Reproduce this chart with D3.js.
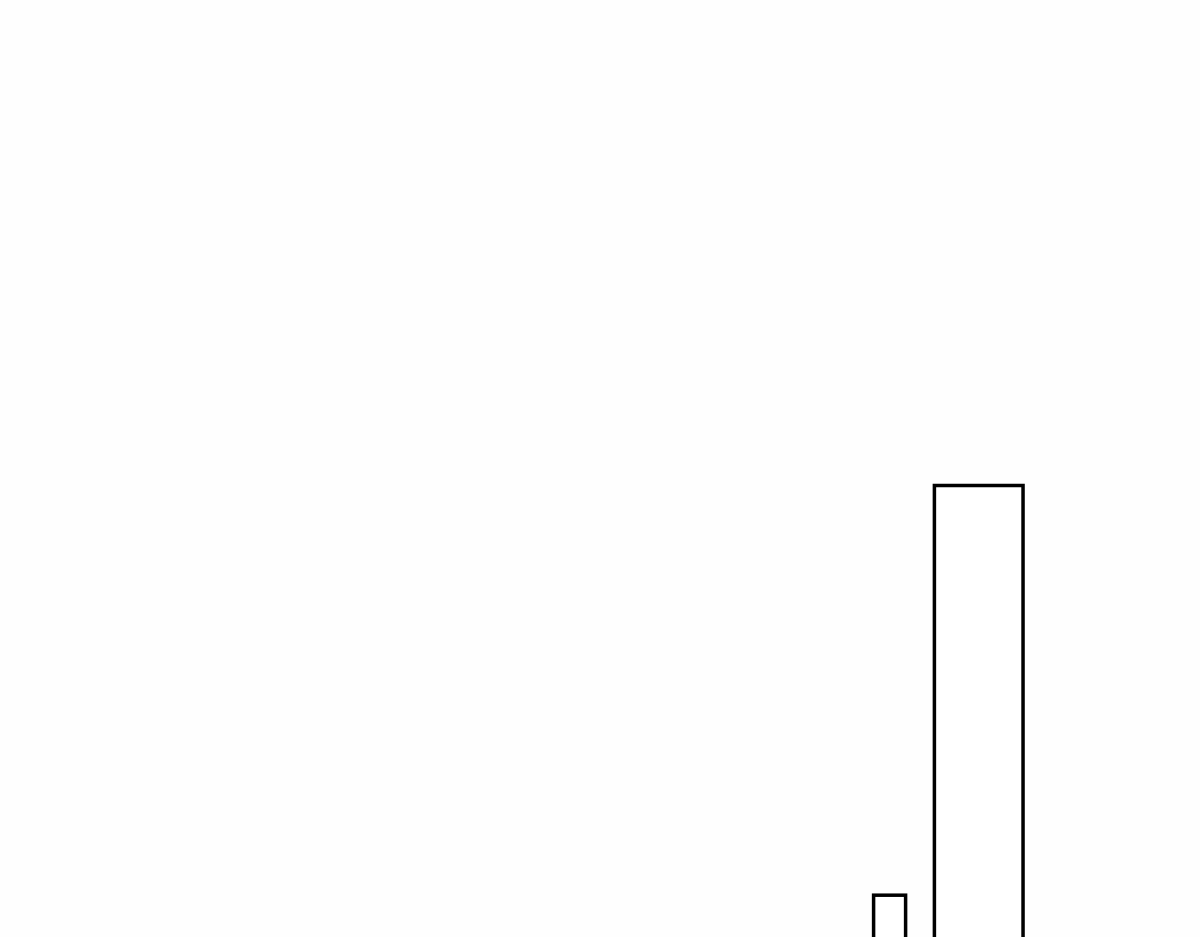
<!DOCTYPE html>
<html>
<head>
<meta charset="utf-8">
<script src="https://cdn.jsdelivr.net/npm/d3@7"></script>
<style>
  html, body { margin: 0; padding: 0; background: #fefefe; overflow: hidden; }
  svg { display: block; }
</style>
</head>
<body>
<svg id="chart" width="1200" height="937"></svg>
<script>
// Data (histogram-style bins)
const binStart = [27.3, 29.2];
const binEnd   = [28.3, 31.97];
const binValues = [1.18, 10];

const width = 1200, height = 937;
const svg = d3.select("#chart");

const x = d3.scaleLinear().domain([0, 37.5]).range([0, width]);
const y = d3.scaleLinear().domain([0, 10]).range([950, 485.5]);

const bins = binStart.map((s, i) => ({ x0: s, x1: binEnd[i], v: binValues[i] }));

svg.append("g")
  .selectAll("rect")
  .data(bins)
  .join("rect")
  .attr("x", d => x(d.x0))
  .attr("width", d => x(d.x1) - x(d.x0))
  .attr("y", d => y(d.v))
  .attr("height", d => y(0) - y(d.v))
  .attr("fill", "#ffffff")
  .attr("stroke", "#000000")
  .attr("stroke-width", 3.5);
</script>
</body>
</html>
